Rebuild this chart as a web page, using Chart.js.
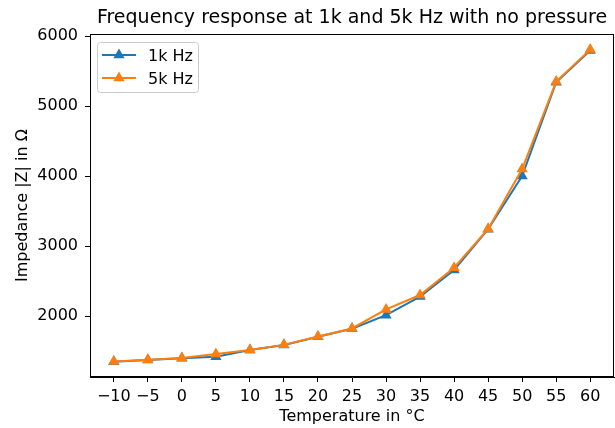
<!DOCTYPE html>
<html>
<head>
<meta charset="utf-8">
<script src="https://cdn.jsdelivr.net/npm/chart.js@4"></script>
<style>
  html, body { margin: 0; padding: 0; background: #fff; }
  #wrap { width: 615px; height: 428px; }
</style>
</head>
<body>
<div id="wrap"><canvas id="chart" width="615" height="428"></canvas></div>
<script>
// temperatures (°C) and measured impedance |Z| in ohms
const temps = [-10, -5, 0, 5, 10, 15, 20, 25, 30, 35, 40, 45, 50, 55, 60];
const imp1k = [1348, 1372, 1398, 1420, 1514, 1586, 1705, 1818, 2012, 2278, 2657, 3240, 4000, 5340, 5792];
const imp5k = [1352, 1375, 1400, 1457, 1516, 1588, 1708, 1822, 2095, 2300, 2690, 3245, 4100, 5350, 5806];
const xTicks = [-10, -5, 0, 5, 10, 15, 20, 25, 30, 35, 40, 45, 50, 55, 60];
const yTicks = [2000, 3000, 4000, 5000, 6000];
const titleText = 'Frequency response at 1k and 5k Hz with no pressure';

const FONT = 'DejaVu Sans';

const toPoints = (ys) => temps.map((t, i) => ({x: t, y: ys[i]}));

// frame, title centred over the plot area, legend box inside the top-left corner
const extras = {
    id: 'extras',
    afterDraw(chart) {
        const ctx = chart.ctx;
        const a = chart.chartArea;
        ctx.save();
        ctx.strokeStyle = '#000';
        ctx.lineWidth = 1;
        ctx.strokeRect(Math.round(a.left) + 0.5, Math.round(a.top) + 0.5,
                       Math.round(a.right - a.left) - 1, Math.round(a.bottom - a.top) - 1);

        ctx.fillStyle = '#000';
        ctx.font = '19px "' + FONT + '"';
        ctx.textAlign = 'center';
        ctx.textBaseline = 'alphabetic';
        ctx.fillText(titleText, (a.left + a.right) / 2, 23);

        // legend frame
        const bx = a.left + 7, by = a.top + 8, bw = 101, bh = 50;
        ctx.beginPath();
        ctx.roundRect(bx + 0.5, by + 0.5, bw, bh, 3);
        ctx.fillStyle = 'rgba(255,255,255,0.8)';
        ctx.fill();
        ctx.strokeStyle = '#cccccc';
        ctx.lineWidth = 1;
        ctx.stroke();

        chart.data.datasets.forEach((ds, i) => {
            const cy = by + 13 + i * 23;
            ctx.beginPath();
            ctx.moveTo(bx + 5, cy);
            ctx.lineTo(bx + 39, cy);
            ctx.strokeStyle = ds.borderColor;
            ctx.lineWidth = 2;
            ctx.stroke();
            const r = 6.5, mx = bx + 22;
            ctx.beginPath();
            ctx.moveTo(mx, cy - r);
            ctx.lineTo(mx + r * 0.866, cy + r * 0.5);
            ctx.lineTo(mx - r * 0.866, cy + r * 0.5);
            ctx.closePath();
            ctx.fillStyle = ds.borderColor;
            ctx.fill();
            ctx.fillStyle = '#000';
            ctx.font = '16px "' + FONT + '"';
            ctx.textAlign = 'left';
            ctx.textBaseline = 'alphabetic';
            ctx.fillText(ds.label, bx + 51, cy + 5.5);
        });
        ctx.restore();
    }
};

new Chart(document.getElementById('chart').getContext('2d'), {
    type: 'line',
    data: {
        datasets: [{
            label: '1k Hz',
            data: toPoints(imp1k),
            borderColor: '#1f77b4',
            backgroundColor: '#1f77b4',
            borderWidth: 2,
            pointStyle: 'triangle',
            pointRadius: 6.5,
            pointBorderWidth: 0,
            order: 1
        }, {
            label: '5k Hz',
            data: toPoints(imp5k),
            borderColor: '#ff7f0e',
            backgroundColor: '#ff7f0e',
            borderWidth: 2,
            pointStyle: 'triangle',
            pointRadius: 6.5,
            pointBorderWidth: 0,
            order: 0
        }]
    },
    options: {
        responsive: false,
        animation: false,
        layout: { autoPadding: false, padding: { top: 34, right: 1, left: 0, bottom: 0 } },
        plugins: {
            legend: { display: false },
            tooltip: { enabled: false }
        },
        scales: {
            x: {
                type: 'linear',
                min: -13.5,
                max: 63.5,
                afterBuildTicks: (s) => { s.ticks = xTicks.map(v => ({value: v})); },
                afterFit: (s) => { s.height = 51; s.paddingLeft = 0; s.paddingRight = 0; },
                border: { color: '#000', width: 1 },
                grid: { drawOnChartArea: false, tickLength: 5, tickColor: '#000' },
                ticks: {
                    color: '#000', font: { family: FONT, size: 16 }, padding: 5,
                    maxRotation: 0, autoSkip: false,
                    callback: (v) => String(v).replace('-', '\u2212')
                },
                title: { display: true, text: 'Temperature in °C', color: '#000',
                         font: { family: FONT, size: 16 }, padding: { top: 0, bottom: 2 } }
            },
            y: {
                min: 1129,
                max: 6029,
                afterBuildTicks: (s) => { s.ticks = yTicks.map(v => ({value: v})); },
                afterFit: (s) => { s.width = 90; s.paddingTop = 0; s.paddingBottom = 0; },
                border: { color: '#000', width: 1 },
                grid: { drawOnChartArea: false, tickLength: 5, tickColor: '#000' },
                ticks: {
                    color: '#000', font: { family: FONT, size: 16 }, padding: 7,
                    callback: (v) => String(v)
                },
                title: { display: true, text: 'Impedance |Z| in Ω', color: '#000',
                         font: { family: FONT, size: 16 }, padding: { top: 13.5, bottom: 0 } }
            }
        }
    },
    plugins: [extras]
});
</script>
</body>
</html>
